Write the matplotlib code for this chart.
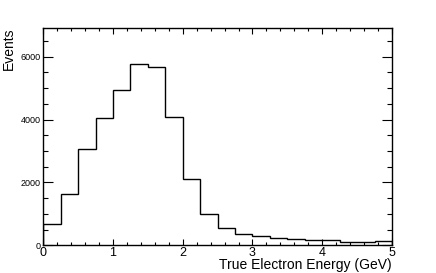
import matplotlib.pyplot as plt
import numpy as np
from matplotlib.ticker import MultipleLocator

plt.rcParams['font.family'] = ['Liberation Sans', 'DejaVu Sans']

# bin edges (GeV) and counts
edges = np.arange(0, 5.25, 0.25)
counts = [690, 1620, 3070, 4050, 4950, 5780, 5680, 4070, 2100, 990,
          560, 370, 300, 230, 210, 180, 160, 115, 120, 130]

fig = plt.figure(figsize=(4.36, 2.73), dpi=100)
ax = fig.add_axes([0.0993, 0.1015, 0.7997, 0.7975])

ax.stairs(counts, edges, color='black', linewidth=1.0)

ax.set_xlim(0, 5)
ax.set_ylim(0, 6930)

ax.xaxis.set_major_locator(MultipleLocator(1))
ax.xaxis.set_minor_locator(MultipleLocator(0.2))
ax.yaxis.set_major_locator(MultipleLocator(2000))
ax.yaxis.set_minor_locator(MultipleLocator(500))

ax.tick_params(axis='both', which='both', direction='in', top=True, right=True, width=0.8)
ax.tick_params(axis='x', which='major', length=4.3, labelsize=9, pad=1.5)
ax.tick_params(axis='x', which='minor', length=2.2)
ax.tick_params(axis='y', which='major', length=7.2, labelsize=6.5, pad=2)
ax.tick_params(axis='y', which='minor', length=3.6)
for s in ax.spines.values():
    s.set_linewidth(1.0)

ax.set_xlabel('True Electron Energy (GeV)', fontsize=10, loc='right')
ax.xaxis.set_label_coords(1.0, -0.09)
ax.xaxis.label.set_va('center')
ax.set_ylabel('Events', fontsize=10, loc='top')
ax.yaxis.set_label_coords(-0.1, 1.0)
ax.yaxis.label.set_va('center')

fig.savefig('out.png', dpi=100)
